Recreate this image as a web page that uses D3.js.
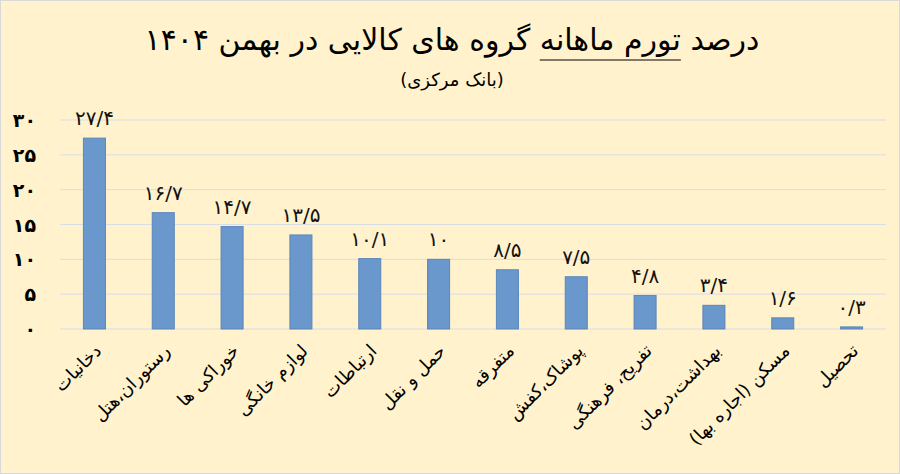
<!DOCTYPE html>
<html><head><meta charset="utf-8">
<script src="https://cdn.jsdelivr.net/npm/d3@7/dist/d3.min.js"></script>
<style>
html,body{margin:0;padding:0;background:#fff;}
svg{display:block;}
</style></head>
<body>
<svg id="chart" width="900" height="474"></svg>
<script>
const categories = ["دخانیات","رستوران،هتل","خوراکی ها","لوازم خانگی","ارتباطات","حمل و نقل","متفرقه","پوشاک،کفش","تفریح، فرهنگی","بهداشت،درمان","مسکن (اجاره بها)","تحصیل"];
const values = [27.4,16.7,14.7,13.5,10.1,10,8.5,7.5,4.8,3.4,1.6,0.3];
const yTicks = [0,5,10,15,20,25,30];
const titleParts = ["درصد ","تورم ماهانه"," گروه های کالایی در بهمن ۱۴۰۴"];
const subtitle = "(بانک مرکزی)";

const fa = s => String(s).replace(/\d/g, d => "۰۱۲۳۴۵۶۷۸۹"[d]).replace(".", "/");
const font = "DejaVu Sans, sans-serif";

const svg = d3.select("#chart");
svg.append("rect").attr("x",0.5).attr("y",0.5).attr("width",899).attr("height",473)
  .attr("fill","#FFF2CC").attr("stroke","#d9d9d9");

const x = d3.scaleBand().domain(categories).range([60,886]).paddingInner(0.68).paddingOuter(0.34);
const y = d3.scaleLinear().domain([0,30]).range([329,120]);

// gridlines
svg.append("g").selectAll("line").data(yTicks).join("line")
  .attr("x1",60).attr("x2",886).attr("y1",d=>y(d)).attr("y2",d=>y(d))
  .attr("stroke","#d9dde6").attr("stroke-width",1);

// y axis
const yAxis = d3.axisLeft(y).tickValues(yTicks).tickSize(0).tickPadding(0).tickFormat(fa);
const gy = svg.append("g").attr("transform","translate(36,0)").call(yAxis);
gy.select(".domain").remove();
gy.selectAll("text").attr("font-family",font).attr("font-size",19).attr("font-weight","bold")
  .attr("fill","#000").attr("dy","0.35em").attr("direction","ltr");

// bars
svg.append("g").selectAll("rect").data(values).join("rect")
  .attr("x",(d,i)=>x(categories[i])).attr("width",x.bandwidth())
  .attr("y",d=>y(d)).attr("height",d=>y(0)-y(d))
  .attr("fill","#6A98CC").attr("stroke","#5A86BA").attr("stroke-width",1);

// value labels
svg.append("g").selectAll("text").data(values).join("text")
  .attr("x",(d,i)=>x(categories[i])+x.bandwidth()/2).attr("y",d=>y(d)-13)
  .attr("text-anchor","middle").attr("direction","ltr")
  .attr("font-family",font).attr("font-size",20).attr("letter-spacing",3)
  .attr("fill","#111").text(d=>fa(d));

// x category labels
svg.append("g").selectAll("text").data(categories).join("text")
  .attr("transform",d=>`translate(${x(d)+x.bandwidth()/2+8},${352}) rotate(-45)`)
  .attr("text-anchor","end")
  .attr("font-family",font).attr("font-size",18).attr("fill","#000").text(d=>d);

// title
const title = svg.append("text").attr("x",452).attr("y",50).attr("text-anchor","middle")
  .attr("direction","rtl").attr("font-family",font).attr("font-size",30).attr("fill","#000")
  .text(titleParts.join(""));
// underline under the second part
const tn = title.node();
const s0 = titleParts[0].length, s1 = s0 + titleParts[1].length;
let minX = Infinity, maxX = -Infinity;
for (let i = s0; i < s1; i++) {
  const e = tn.getExtentOfChar(i);
  minX = Math.min(minX, e.x); maxX = Math.max(maxX, e.x + e.width);
}
svg.append("line").attr("x1",minX).attr("x2",maxX).attr("y1",60).attr("y2",60)
  .attr("stroke","#000").attr("stroke-width",1.2);

svg.append("text").attr("x",452).attr("y",86).attr("text-anchor","middle").attr("direction","rtl")
  .attr("font-family",font).attr("font-size",18).attr("fill","#000").text(subtitle);
</script>
</body></html>
